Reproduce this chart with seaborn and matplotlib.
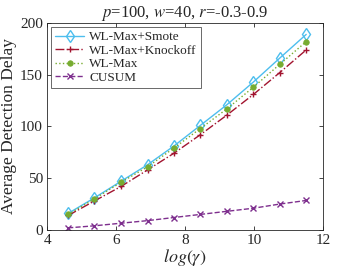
import pandas as pd
import matplotlib
matplotlib.use('Agg')
import matplotlib.pyplot as plt
import seaborn as sns

# values
log_gamma = [4.61, 5.37, 6.14, 6.91, 7.67, 8.44, 9.21, 9.98, 10.74, 11.51]
smote = [16, 31, 47, 63, 81, 101, 121, 143, 166, 189]
knockoff = [14, 28, 42, 58, 74, 92, 111, 131, 152, 174]
wlmax = [15, 30, 46, 61, 79, 98, 117, 138, 160, 182]
cusum = [2, 4, 6.5, 9, 12, 15, 18, 21, 25, 28.5]

methods = ['WL-Max+Smote', 'WL-Max+Knockoff', 'WL-Max', 'CUSUM']
series = [smote, knockoff, wlmax, cusum]
colors = ['#4DBEEE', '#A2142F', '#77AC30', '#7E2F8E']
styles = ['-', '-.', ':', '--']
markers = ['d', '+', 'o', 'x']

sns.set_style('ticks')
plt.rcParams['font.family'] = ['Liberation Serif', 'DejaVu Serif']
plt.rcParams['mathtext.fontset'] = 'stix'
plt.rcParams['xtick.direction'] = 'in'
plt.rcParams['ytick.direction'] = 'in'

fig = plt.figure(figsize=(3.57, 2.68), dpi=100)
ax = fig.add_axes([0.132, 0.142, 0.773, 0.772])

for name, vals, c, ls, m in zip(methods, series, colors, styles, markers):
    df = pd.DataFrame({'x': log_gamma, 'y': vals})
    if m == 'd':
        kw = dict(markerfacecolor='none', markeredgecolor=c, markeredgewidth=1.0, markersize=6)
    elif m == 'o':
        kw = dict(markerfacecolor=c, markeredgecolor=c, markeredgewidth=0.5, markersize=4)
    else:
        kw = dict(markeredgecolor=c, markeredgewidth=1.0, markersize=4)
    sns.lineplot(data=df, x='x', y='y', ax=ax, color=c, linestyle=ls,
                 marker=m, linewidth=1.0, label=name, **kw)

ax.set_xlim(4, 12)
ax.set_ylim(0, 200)
ax.set_xticks([4, 6, 8, 10, 12])
ax.set_yticks([0, 50, 100, 150, 200])
ax.tick_params(labelsize=11, length=3, width=0.6, top=True, right=True, pad=3)
for s in ax.spines.values():
    s.set_linewidth(0.6)
    s.set_color('#262626')
ax.set_xlabel(r'$log(\gamma)$', fontsize=13, labelpad=0)
ax.set_ylabel('Average Detection Delay', fontsize=12.5, labelpad=2)
ax.set_title(r'$p$=100, $w$=40, $r$=-0.3-0.9', fontsize=12, pad=4)

leg = ax.legend(loc='upper left', fontsize=9.5, frameon=True, fancybox=False,
                borderpad=0.3, labelspacing=0.1, handlelength=2.2,
                handletextpad=0.4, borderaxespad=0.3)
leg.get_frame().set_edgecolor('#262626')
leg.get_frame().set_linewidth(0.6)

fig.savefig('out.png', dpi=100)
